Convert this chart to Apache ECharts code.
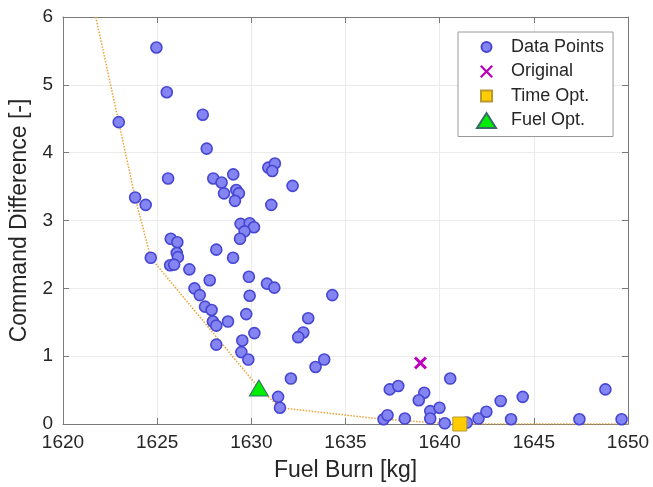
<!DOCTYPE html>
<html>
<head>
<meta charset="utf-8">
<script src="https://cdn.jsdelivr.net/npm/echarts@6/dist/echarts.min.js"></script>
<style>
html,body{margin:0;padding:0;background:#fff;}
#c{width:653px;height:487px;}
</style>
</head>
<body>
<div id="c"></div>
<script>
// ---- data ----
var xTicks = [1620, 1625, 1630, 1635, 1640, 1645, 1650];
var yTicks = [0, 1, 2, 3, 4, 5, 6];
var dataPoints = [
  [1624.96,5.55],[1625.51,4.89],[1622.96,4.45],[1627.42,4.56],[1627.63,4.06],[1625.58,3.62],
  [1623.83,3.34],[1624.39,3.23],[1627.98,3.62],[1628.42,3.56],[1629.04,3.68],[1628.55,3.40],
  [1629.20,3.45],[1629.34,3.40],[1629.13,3.29],[1630.90,3.78],[1631.25,3.84],[1631.11,3.73],
  [1631.06,3.23],[1632.19,3.51],
  [1629.43,2.95],[1629.91,2.96],[1630.14,2.90],[1629.64,2.84],[1629.40,2.73],[1625.72,2.73],
  [1626.07,2.68],[1626.04,2.52],[1626.10,2.46],[1625.69,2.34],[1625.90,2.35],[1624.66,2.45],
  [1628.14,2.57],[1629.03,2.45],[1626.71,2.28],[1629.87,2.17],[1627.79,2.12],[1630.83,2.07],
  [1631.22,2.01],[1626.98,2.00],[1627.26,1.90],[1629.91,1.89],[1627.54,1.73],[1627.89,1.68],
  [1629.73,1.62],[1627.96,1.51],[1628.14,1.45],[1628.76,1.51],[1630.16,1.34],[1628.14,1.17],
  [1629.52,1.23],[1629.47,1.06],[1629.84,0.95],[1631.42,0.40],[1631.52,0.24],
  [1634.30,1.90],[1633.02,1.56],[1632.76,1.35],[1632.49,1.28],[1633.87,0.95],[1633.41,0.84],
  [1632.10,0.67],
  [1640.56,0.67],[1637.35,0.51],[1637.80,0.56],[1639.18,0.46],[1638.89,0.35],[1639.50,0.19],
  [1639.99,0.24],[1639.50,0.08],[1637.02,0.07],[1637.23,0.13],[1638.15,0.08],[1640.27,0.01],
  [1641.44,0.02],[1642.06,0.08],[1642.48,0.18],[1643.24,0.34],[1643.79,0.07],[1644.41,0.40],
  [1647.42,0.07],[1648.80,0.51],[1649.66,0.07]
];
var originalPoint = [[1638.98, 0.90]];
var timeOptPoint = [[1641.07, 0.0]];
var fuelOptPoint = [[1630.40, 0.53]];
var paretoFront = [
  [1621.74,6.0],[1622.96,4.45],[1623.83,3.34],[1624.66,2.45],[1630.40,0.53],
  [1631.52,0.24],[1637.02,0.07],[1640.27,0.01],[1641.07,0.0],[1650.0,0.0]
];
var seriesNames = ['Data Points', 'Original', 'Time Opt.', 'Fuel Opt.'];

// ---- chart ----
var FONT = 'Liberation Sans, Arial, Helvetica, sans-serif';
var axisCol = '#7a7a7a';
var textCol = '#262626';
var xPath = 'path://M0,1.6 L1.6,0 L5,3.4 L8.4,0 L10,1.6 L6.6,5 L10,8.4 L8.4,10 L5,6.6 L1.6,10 L0,8.4 L3.4,5 Z';

var chart = echarts.init(document.getElementById('c'), null, {renderer: 'canvas'});

function plainFmt(v) { return String(v); }

function baseX(pos, showLabel) {
  return {
    type: 'value', position: pos, min: xTicks[0], max: xTicks[xTicks.length-1], interval: 5,
    axisLine: {show: true, onZero: false, lineStyle: {color: axisCol, width: 1}},
    axisTick: {show: true, inside: true, length: 6, lineStyle: {color: axisCol}},
    axisLabel: {show: showLabel, color: textCol, fontSize: 19, fontFamily: FONT, margin: 9, formatter: plainFmt},
    splitLine: {show: showLabel, lineStyle: {color: '#ebebeb', width: 1}}
  };
}
function baseY(pos, showLabel) {
  return {
    type: 'value', position: pos, min: yTicks[0], max: yTicks[yTicks.length-1], interval: 1,
    axisLine: {show: true, onZero: false, lineStyle: {color: axisCol, width: 1}},
    axisTick: {show: true, inside: true, length: 6, lineStyle: {color: axisCol}},
    axisLabel: {show: showLabel, color: textCol, fontSize: 19, fontFamily: FONT, margin: 10, formatter: plainFmt},
    splitLine: {show: showLabel, lineStyle: {color: '#ebebeb', width: 1}}
  };
}

var x0 = baseX('bottom', true);
x0.name = 'Fuel Burn [kg]';
x0.nameLocation = 'middle';
x0.nameGap = 35;
x0.nameTextStyle = {color: textCol, fontSize: 23, fontFamily: FONT};
var x1 = baseX('top', false);
var y0 = baseY('left', true);
y0.name = 'Command Difference [-]';
y0.nameLocation = 'middle';
y0.nameGap = 30;
y0.nameTextStyle = {color: textCol, fontSize: 23, fontFamily: FONT};
var y1 = baseY('right', false);

var option = {
  animation: false,
  backgroundColor: '#ffffff',
  grid: {left: 63, right: 25, top: 17, bottom: 62.5, containLabel: false},
  xAxis: [x0, x1],
  yAxis: [y0, y1],
  legend: {
    orient: 'vertical', left: 458, top: 32,
    padding: [6, 9, 7, 18],
    itemWidth: 19, itemHeight: 15, itemGap: 6.5,
    backgroundColor: '#ffffff', borderColor: '#9a9a9a', borderWidth: 1,
    textStyle: {color: textCol, fontSize: 18, fontFamily: FONT, padding: [0, 0, 0, 10]},
    data: [
      {name: seriesNames[0], icon: 'path://M0,0 M19,15 M4.5,7.5 A5,5 0 1 1 14.5,7.5 A5,5 0 1 1 4.5,7.5 Z'},
      {name: seriesNames[1], icon: 'path://M0,0 M19,15 M3,2.6 L4.6,1 L9.5,5.9 L14.4,1 L16,2.6 L11.1,7.5 L16,12.4 L14.4,14 L9.5,9.1 L4.6,14 L3,12.4 L7.9,7.5 Z'},
      {name: seriesNames[2], icon: 'path://M0,0 M19,15 M4,2 L15,2 L15,13 L4,13 Z'},
      {name: seriesNames[3], icon: 'path://M9.5,0 L19,15 L0,15 Z'}
    ]
  },
  series: [
    {
      type: 'line', name: 'Pareto', data: paretoFront, symbol: 'none', silent: true,
      lineStyle: {color: '#eea236', width: 1.5, type: 'dotted'}, z: 2
    },
    {
      type: 'scatter', name: seriesNames[0], data: dataPoints, symbol: 'circle', symbolSize: 11,
      itemStyle: {color: '#8484f2', borderColor: '#4646d2', borderWidth: 1.6, opacity: 1}, z: 3
    },
    {
      type: 'scatter', name: seriesNames[1], data: originalPoint, symbol: xPath, symbolSize: 13,
      itemStyle: {color: '#bb00bb', opacity: 1}, z: 4
    },
    {
      type: 'scatter', name: seriesNames[2], data: timeOptPoint, symbol: 'rect', symbolSize: 14,
      itemStyle: {color: '#ffcc00', borderColor: '#b89a30', borderWidth: 1, opacity: 1}, z: 4
    },
    {
      type: 'scatter', name: seriesNames[3], data: fuelOptPoint, symbol: 'triangle', symbolSize: [19, 16],
      itemStyle: {color: '#00ee00', borderColor: '#3a6a6a', borderWidth: 1, opacity: 1}, z: 4
    }
  ]
};
chart.setOption(option);
</script>
</body>
</html>
